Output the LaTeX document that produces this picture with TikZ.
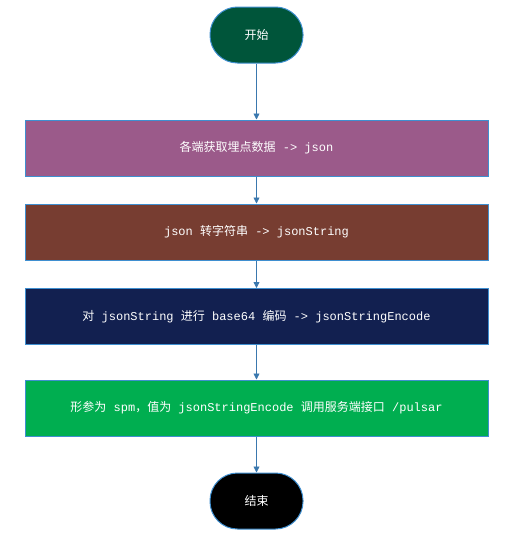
\documentclass[tikz,border=0pt]{standalone}
\usepackage{fontspec}
\setmainfont{Noto Sans CJK SC}
\setmonofont{Liberation Mono}
\usetikzlibrary{arrows.meta}
\definecolor{startgreen}{HTML}{00553A}
\definecolor{collectpurple}{HTML}{9B5A8A}
\definecolor{jsonbrown}{HTML}{773D31}
\definecolor{encodenavy}{HTML}{122050}
\definecolor{callgreen}{HTML}{00AE50}
\definecolor{boxline}{HTML}{3F8FD0}
\definecolor{flowblue}{HTML}{3A78AE}

\begin{document}
\begin{tikzpicture}[x=1pt, y=-1pt,
	stepbox/.style={draw=boxline, line width=1pt, minimum width=463pt, minimum height=56pt,
		text=white, font=\fontsize{12}{14}\selectfont},
	termbox/.style={draw=boxline, line width=1pt, rounded corners=27.5pt, minimum width=93pt,
		minimum height=56pt, text=white, font=\fontsize{12}{14}\selectfont},
	flow/.style={draw=flowblue, line width=0.8pt, -{Triangle[length=6pt,width=6pt]}}]
	\useasboundingbox (0,0) rectangle (515,538);
	% start / end
	\node[termbox, fill=startgreen] (start) at (256.5,35) {开始};
	\node[termbox, fill=black] (stop) at (256.5,501) {结束};
	% steps
	\node[stepbox, fill=collectpurple] (collect) at (256.5,148) {各端获取埋点数据\texttt{ -> json}};
	\node[stepbox, fill=jsonbrown] (tostring) at (256.5,232) {\texttt{json }转字符串\texttt{ -> jsonString}};
	\node[stepbox, fill=encodenavy] (encode) at (256.5,316.5) {对\texttt{ jsonString }进行\texttt{ base64 }编码\texttt{ -> jsonStringEncode}};
	\node[stepbox, fill=callgreen] (call) at (256.5,408) {形参为\texttt{ spm}，值为\texttt{ jsonStringEncode }调用服务端接口\texttt{ /pulsar}};
	% arrows
	\draw[flow] (start) -- (collect);
	\draw[flow] (collect) -- (tostring);
	\draw[flow] (tostring) -- (encode);
	\draw[flow] (encode) -- (call);
	\draw[flow] (call) -- (stop);
\end{tikzpicture}
\end{document}
